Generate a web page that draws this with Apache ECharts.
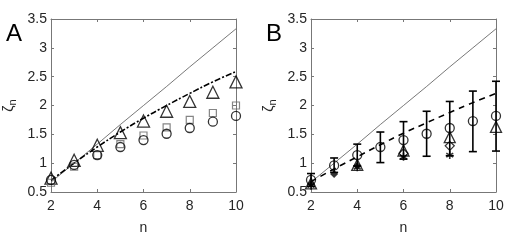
<!DOCTYPE html>
<html><head><meta charset="utf-8">
<script src="https://cdn.jsdelivr.net/npm/echarts@6/dist/echarts.min.js"></script>
<style>html,body{margin:0;padding:0;background:#fff}#c{width:520px;height:240px}</style>
</head><body><div id="c"></div>
<script>
// ---------- data ----------
const nVals = [2, 3, 4, 5, 6, 7, 8, 9, 10];
const xTicks = [2, 4, 6, 8, 10];
const yTicks = [0.5, 1, 1.5, 2, 2.5, 3, 3.5];
const k41 = [0.67, 1.0, 1.33, 1.67, 2.0, 2.33, 2.67, 3.0, 3.33];

// Panel A
const aModel = [0.70, 1.0, 1.28, 1.54, 1.78, 2.0, 2.21, 2.41, 2.59];
const aTriangle = [0.74, 1.05, 1.31, 1.53, 1.73, 1.90, 2.07, 2.23, 2.41];
const aSquare = [0.66, 0.94, 1.14, 1.33, 1.48, 1.62, 1.75, 1.87, 2.0];
const aCircle = [0.71, 0.97, 1.14, 1.28, 1.40, 1.51, 1.61, 1.72, 1.82];

// Panel B
const bModel = [0.68, 0.90, 1.11, 1.32, 1.52, 1.70, 1.88, 2.05, 2.21];
const bCircle = [0.71, 0.96, 1.14, 1.28, 1.40, 1.51, 1.61, 1.73, 1.82];
const bErrLow = [0.60, 0.84, 0.95, 1.01, 1.07, 1.12, 1.13, 1.20, 1.21];
const bErrHigh = [0.82, 1.09, 1.33, 1.54, 1.72, 1.90, 2.07, 2.25, 2.42];
const bTriN = [2, 4, 6, 8, 10];
const bTriangle = [0.65, 0.97, 1.22, 1.45, 1.63];
const bDiaFilledN = [2, 3, 4];
const bDiaFilled = [0.64, 0.81, 0.95];
const bStarN = [2, 4, 6, 8];
const bStar = [0.61, 0.93, 1.11, 1.14];
const bDiaOpenN = [6, 8];
const bDiaOpen = [1.17, 1.30];

// ---------- build ----------
const pair = (xs, ys) => xs.map((x, i) => [x, ys[i]]);
const FONT = 'Liberation Sans';
const AX = '#777';
const TXT = '#262626';
const FS = 14;

function xAx(gi, top) {
  return {
    type: 'value', gridIndex: gi, min: xTicks[0], max: xTicks[xTicks.length - 1], interval: 2,
    position: top ? 'top' : 'bottom',
    name: top ? '' : 'n', nameLocation: 'middle', nameGap: 29,
    nameTextStyle: { fontFamily: FONT, fontSize: FS, color: TXT },
    axisLine: { show: true, onZero: false, lineStyle: { color: AX, width: 1 } },
    axisTick: { show: true, inside: true, length: 3, lineStyle: { color: AX } },
    axisLabel: { show: !top, fontFamily: FONT, fontSize: FS, color: TXT, margin: 7 },
    splitLine: { show: false }
  };
}
function yAx(gi, right) {
  return {
    type: 'value', gridIndex: gi, min: yTicks[0], max: yTicks[yTicks.length - 1], interval: 0.5,
    position: right ? 'right' : 'left',
    name: right ? '' : 'ζ{s|n}', nameLocation: 'middle', nameGap: 33, nameRotate: 90,
    nameTextStyle: { fontFamily: FONT, fontSize: FS, color: TXT, rich: { s: { fontSize: 11, fontFamily: FONT, color: TXT, verticalAlign: 'bottom', padding: [7, 0, 0, 0] } } },
    axisLine: { show: true, onZero: false, lineStyle: { color: AX, width: 1 } },
    axisTick: { show: true, inside: true, length: 3, lineStyle: { color: AX } },
    axisLabel: { show: !right, fontFamily: FONT, fontSize: FS, color: TXT, margin: 4 },
    splitLine: { show: false }
  };
}

const open = (sym, size, col, bw) => ({
  type: 'scatter', symbol: sym, symbolSize: size, z: 5,
  itemStyle: { color: 'rgba(0,0,0,0)', borderColor: col || '#000', borderWidth: bw || 1.3 }
});
const starPath = 'path://M0,-5L0,5M-4.3,-2.5L4.3,2.5M-4.3,2.5L4.3,-2.5';

const series = [];
// Panel A (axes 0 = bottom/left)
series.push({ type: 'line', xAxisIndex: 0, yAxisIndex: 0, data: pair(nVals, k41), symbol: 'none', lineStyle: { color: '#555', width: 0.8 } });
series.push({ type: 'line', xAxisIndex: 0, yAxisIndex: 0, data: pair(nVals, aModel), symbol: 'none', smooth: true, lineStyle: { color: '#000', width: 1.6, type: [6, 2, 2, 2] } });
series.push(Object.assign(open('triangle', 12), { xAxisIndex: 0, yAxisIndex: 0, data: pair(nVals, aTriangle) }));
series.push(Object.assign(open('rect', 7, '#666', 1.2), { xAxisIndex: 0, yAxisIndex: 0, data: pair(nVals, aSquare) }));
series.push(Object.assign(open('circle', 9), { xAxisIndex: 0, yAxisIndex: 0, data: pair(nVals, aCircle) }));

// Panel B (axes 2 = bottom/left of grid 1)
series.push({ type: 'line', xAxisIndex: 2, yAxisIndex: 2, data: pair(nVals, k41), symbol: 'none', lineStyle: { color: '#555', width: 0.8 } });
series.push({ type: 'line', xAxisIndex: 2, yAxisIndex: 2, data: pair(nVals, bModel), symbol: 'none', smooth: true, lineStyle: { color: '#000', width: 1.6, type: [6, 5] } });
series.push({
  type: 'custom', xAxisIndex: 2, yAxisIndex: 2, z: 4,
  data: nVals.map((n, i) => [n, bErrLow[i], bErrHigh[i]]),
  renderItem: function (params, api) {
    const lo = api.coord([api.value(0), api.value(1)]);
    const hi = api.coord([api.value(0), api.value(2)]);
    const w = 4;
    const st = { stroke: '#000', lineWidth: 1.6 };
    return { type: 'group', children: [
      { type: 'line', shape: { x1: lo[0], y1: lo[1], x2: hi[0], y2: hi[1] }, style: st },
      { type: 'line', shape: { x1: lo[0] - w, y1: lo[1], x2: lo[0] + w, y2: lo[1] }, style: st },
      { type: 'line', shape: { x1: hi[0] - w, y1: hi[1], x2: hi[0] + w, y2: hi[1] }, style: st }
    ] };
  }
});
series.push(Object.assign(open('circle', 9), { xAxisIndex: 2, yAxisIndex: 2, data: pair(nVals, bCircle) }));
series.push(Object.assign(open('triangle', 11), { xAxisIndex: 2, yAxisIndex: 2, data: pair(bTriN, bTriangle) }));
series.push({ type: 'scatter', xAxisIndex: 2, yAxisIndex: 2, symbol: 'diamond', symbolSize: 8, z: 5, data: pair(bDiaFilledN, bDiaFilled), itemStyle: { color: '#000' } });
series.push({ type: 'scatter', xAxisIndex: 2, yAxisIndex: 2, symbol: starPath, symbolSize: 8, symbolKeepAspect: true, z: 5, data: pair(bStarN, bStar), itemStyle: { color: '#000', borderColor: '#000', borderWidth: 1.6 } });
series.push(Object.assign(open('diamond', 9), { xAxisIndex: 2, yAxisIndex: 2, data: pair(bDiaOpenN, bDiaOpen) }));

const option = {
  animation: false,
  backgroundColor: '#fff',
  grid: [
    { left: 51, top: 19, width: 185, height: 181 },
    { left: 311, top: 19, width: 185, height: 181 }
  ],
  xAxis: [xAx(0, false), xAx(0, true), xAx(1, false), xAx(1, true)],
  yAxis: [yAx(0, false), yAx(0, true), yAx(1, false), yAx(1, true)],
  graphic: [
    { type: 'text', left: 6, top: 22, style: { text: 'A', font: '24px "Liberation Sans"', fill: '#000' } },
    { type: 'text', left: 266, top: 22, style: { text: 'B', font: '24px "Liberation Sans"', fill: '#000' } }
  ],
  series: series
};
const chart = echarts.init(document.getElementById('c'), null, { renderer: 'canvas' });
chart.setOption(option);
</script></body></html>
